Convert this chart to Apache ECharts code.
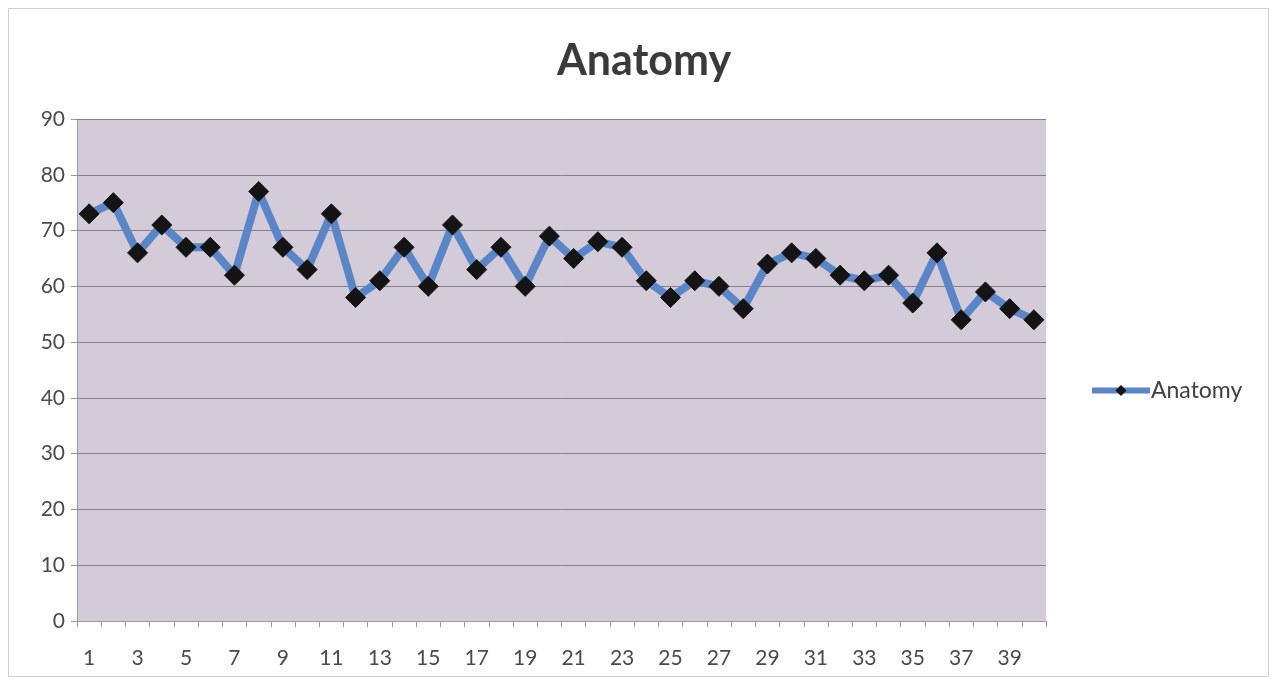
<!DOCTYPE html>
<html>
<head>
<meta charset="utf-8">
<title>Anatomy</title>
<script src="https://cdn.jsdelivr.net/npm/echarts@6/dist/echarts.min.js"></script>
<style>
  html, body { margin: 0; padding: 0; background: #fff; }
  #chart { width: 1273px; height: 681px; position: relative; }
  .frame { position: absolute; left: 8px; top: 8px; right: 4px; bottom: 4px; border: 1px solid #d0d0d0; pointer-events: none; }
</style>
</head>
<body>
<div id="chart"></div>
<script>
// x categories 1..40
const categories = ["1","2","3","4","5","6","7","8","9","10","11","12","13","14","15","16","17","18","19","20",
  "21","22","23","24","25","26","27","28","29","30","31","32","33","34","35","36","37","38","39","40"];
const anatomy = [73, 75, 66, 71, 67, 67, 62, 77, 67, 63, 73, 58, 61, 67, 60, 71, 63, 67, 60, 69,
  65, 68, 67, 61, 58, 61, 60, 56, 64, 66, 65, 62, 61, 62, 57, 66, 54, 59, 56, 54];
const yTicks = { min: 0, max: 90, interval: 10 };

const chart = echarts.init(document.getElementById("chart"));
const labelFont = "Lato, 'Open Sans', sans-serif";

chart.setOption({
  animation: false,
  backgroundColor: "#fff",
  title: {
    text: "Anatomy",
    left: 639,
    top: 35,
    textAlign: "center",
    textStyle: { fontFamily: labelFont, fontSize: 43, fontWeight: "bold", color: "#3a3a3a" }
  },
  legend: {
    data: [{ name: "Anatomy", lineStyle: { width: 6 } }],
    left: 1084,
    top: 374,
    itemWidth: 58,
    itemHeight: 14,
    itemGap: 2,
    textStyle: { fontFamily: labelFont, fontSize: 23, color: "#404040", padding: [0, 0, 0, -4] }
  },
  grid: { left: 77, top: 119, right: 227, bottom: 60, show: true, backgroundColor: "#d3cbd7", borderWidth: 0 },
  xAxis: {
    type: "category",
    data: categories,
    boundaryGap: true,
    axisLine: { lineStyle: { color: "#9a9a9a", width: 1 } },
    axisTick: { show: true, interval: 0, length: 6, lineStyle: { color: "#9a9a9a" } },
    axisLabel: { interval: 1, fontFamily: labelFont, fontSize: 21, color: "#4a4a4a", margin: 27 }
  },
  yAxis: {
    type: "value",
    min: yTicks.min,
    max: yTicks.max,
    interval: yTicks.interval,
    axisLine: { show: true, lineStyle: { color: "#9a9a9a" } },
    axisTick: { show: true, length: 6, lineStyle: { color: "#9a9a9a" } },
    axisLabel: { fontFamily: labelFont, fontSize: 21, color: "#4a4a4a", margin: 12 },
    splitLine: { show: true, lineStyle: { color: "#877e8c", width: 1 } }
  },
  series: [
    {
      name: "Anatomy",
      type: "line",
      data: anatomy,
      symbol: "diamond",
      symbolSize: 20,
      showAllSymbol: true,
      itemStyle: { color: "#141414", borderColor: "#141414" },
      lineStyle: { color: "#5a86c8", width: 8 }
    }
  ]
});
</script>
<div class="frame"></div>
</body>
</html>
